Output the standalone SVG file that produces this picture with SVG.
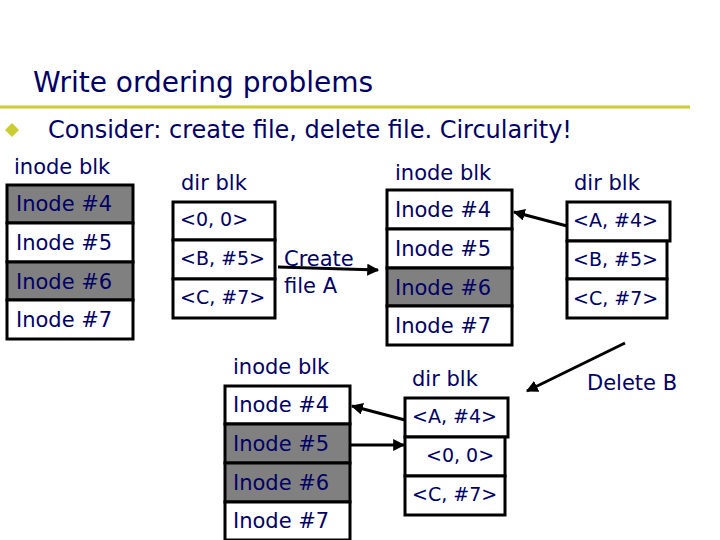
<svg xmlns="http://www.w3.org/2000/svg" width="720" height="540" viewBox="0 0 720 540">
<style>
text{font-family:"DejaVu Sans",sans-serif;fill:#000066;font-size:21px}
.sm{font-size:19px}
.lb{font-size:21px}
.c{fill:#fff;stroke:#000;stroke-width:3}
.g{fill:#808080;stroke:#000;stroke-width:3}
.a{stroke:#000;stroke-width:3;fill:none;marker-end:url(#ah)}
</style>
<defs><marker id="ah" viewBox="0 0 10 10" refX="9" refY="5" markerWidth="4" markerHeight="4" orient="auto"><path d="M0,0L10,5L0,10z" fill="#000"/></marker></defs>
<rect width="720" height="540" fill="#fff"/>
<text x="33" y="92" style="font-size:28px">Write ordering problems</text>
<line x1="0" y1="107" x2="690" y2="107" stroke="#cccc33" stroke-width="3"/>
<path d="M12,123L19,130L12,137L5,130z" fill="#cccc33"/>
<text x="48" y="138" style="font-size:24px">Consider: create file, delete file.  Circularity!</text>
<g id="inode1">
<text x="14" y="174">inode blk</text>
<rect class="g" x="7" y="185" width="126" height="38"/><rect class="c" x="7" y="223" width="126" height="39"/><rect class="g" x="7" y="262" width="126" height="38"/><rect class="c" x="7" y="300" width="126" height="39"/>
<text x="16" y="211">Inode #4</text><text x="16" y="250">Inode #5</text><text x="16" y="289">Inode #6</text><text x="16" y="327">Inode #7</text>
</g>
<g id="dir1">
<text x="181" y="190">dir blk</text>
<rect class="c" x="173" y="202" width="102" height="38"/><rect class="c" x="173" y="240" width="102" height="39"/><rect class="c" x="173" y="279" width="102" height="39"/>
<text x="180" y="226" class="sm">&lt;0, 0&gt;</text><text x="180" y="265" class="sm">&lt;B, #5&gt;</text><text x="180" y="304" class="sm">&lt;C, #7&gt;</text>
</g>
<g id="createlbl"><text x="284" y="266" class="lb">Create</text><text x="284" y="293" class="lb">file A</text></g>
<g id="inode2">
<text x="395" y="180">inode blk</text>
<rect class="c" x="387" y="190" width="125" height="39"/><rect class="c" x="387" y="229" width="125" height="39"/><rect class="g" x="387" y="268" width="125" height="38"/><rect class="c" x="387" y="306" width="125" height="39"/>
<text x="395" y="217">Inode #4</text><text x="395" y="256">Inode #5</text><text x="395" y="295">Inode #6</text><text x="395" y="333">Inode #7</text>
</g>
<g id="dir2">
<text x="574" y="190">dir blk</text>
<rect class="c" x="567" y="202" width="103" height="39"/><rect class="c" x="567" y="241" width="100" height="38"/><rect class="c" x="567" y="279" width="100" height="39"/>
<text x="573" y="227" class="sm">&lt;A, #4&gt;</text><text x="573" y="266" class="sm">&lt;B, #5&gt;</text><text x="573" y="305" class="sm">&lt;C, #7&gt;</text>
</g>
<g id="deletelbl"><text x="587" y="390">Delete B</text></g>
<g id="inode3">
<text x="233" y="374">inode blk</text>
<rect class="c" x="225" y="386" width="125" height="38"/><rect class="g" x="225" y="424" width="125" height="39"/><rect class="g" x="225" y="463" width="125" height="39"/><rect class="c" x="225" y="502" width="125" height="38"/>
<text x="233" y="412">Inode #4</text><text x="233" y="451">Inode #5</text><text x="233" y="490">Inode #6</text><text x="233" y="528">Inode #7</text>
</g>
<g id="dir3">
<text x="412" y="386">dir blk</text>
<rect class="c" x="405" y="398" width="103" height="39"/><rect class="c" x="405" y="437" width="100" height="39"/><rect class="c" x="405" y="476" width="100" height="39"/>
<text x="412" y="423" class="sm">&lt;A, #4&gt;</text><text x="426" y="462" class="sm">&lt;0, 0&gt;</text><text x="412" y="501" class="sm">&lt;C, #7&gt;</text>
</g>
<g id="connectors">
<line class="a" x1="278" y1="267" x2="378" y2="270"/>
<line class="a" x1="567" y1="226" x2="514" y2="212"/>
<line class="a" x1="625" y1="343" x2="527" y2="391"/>
<line class="a" x1="405" y1="420" x2="352" y2="406"/>
<line class="a" x1="350" y1="445" x2="404" y2="445"/>
</g>
</svg>
